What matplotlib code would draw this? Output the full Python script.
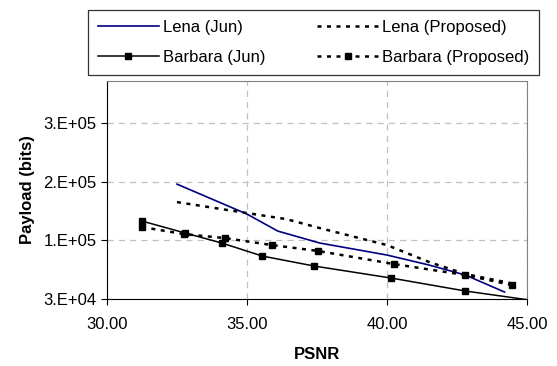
import matplotlib
matplotlib.use("Agg")
import matplotlib.pyplot as plt

plt.rcParams['font.family'] = ['Liberation Sans', 'DejaVu Sans']

# PSNR (x) and payload in bits (y)
lena_jun_x = [32.5, 35.0, 36.1, 37.6, 40.0, 41.5, 42.8, 44.2]
lena_jun_y = [186800, 145900, 122700, 106400, 90000, 76400, 62700, 39500]

lena_prop_x = [32.5, 35.0, 36.4, 37.6, 40.0, 41.5, 42.8, 44.4]
lena_prop_y = [162300, 147300, 139100, 126800, 103600, 80500, 64100, 51800]

barb_jun_x = [31.25, 32.8, 34.1, 35.55, 37.4, 40.15, 42.8, 45.2]
barb_jun_y = [136400, 120000, 106400, 88600, 75000, 58600, 40900, 28000]

barb_prop_x = [31.25, 32.75, 34.2, 35.9, 37.55, 40.25, 42.8, 44.45]
barb_prop_y = [128200, 118600, 113200, 103600, 95500, 77700, 62700, 49100]

x_ticks = [30, 35, 40, 45]
y_ticks = [30000, 110000, 190000, 270000]
y_tick_labels = ['3.E+04', '1.E+05', '2.E+05', '3.E+05']

fig = plt.figure(figsize=(5.57, 3.66), dpi=100)
ax = fig.add_axes([107/557, 1-299/366, 420/557, 218/366])

ax.plot(lena_jun_x, lena_jun_y, color='#000080', lw=1.2, label='Lena (Jun)')
ax.plot(lena_prop_x, lena_prop_y, color='black', lw=1.8, ls=(0, (1.6, 2.2)),
        label='Lena (Proposed)')
ax.plot(barb_jun_x, barb_jun_y, color='black', lw=1.1, marker='s', ms=5,
        label='Barbara (Jun)')
ax.plot(barb_prop_x, barb_prop_y, color='black', lw=1.8, ls=(0, (1.6, 2.2)),
        marker='s', ms=5, label='Barbara (Proposed)')

ax.set_xlim(30, 45)
ax.set_ylim(30000, 30000 + 3.72*80000)
ax.set_xticks(x_ticks)
ax.set_xticklabels(['%.2f' % v for v in x_ticks])
ax.set_yticks(y_ticks)
ax.set_yticklabels(y_tick_labels)
ax.tick_params(direction='out', length=4, labelsize=12, color='black')
ax.tick_params(axis='x', pad=9)

ax.grid(True, color='#c0c0c0', ls=(0, (5, 4)), lw=0.9)
ax.set_axisbelow(True)
for s in ['top', 'right']:
    ax.spines[s].set_color('#808080')
for s in ['left', 'bottom']:
    ax.spines[s].set_color('black')

ax.set_xlabel('PSNR', fontweight='bold', fontsize=12, labelpad=11)
ax.set_ylabel('Payload (bits)', fontweight='bold', fontsize=12, labelpad=6)

handles, labels = ax.get_legend_handles_labels()
order = [0, 2, 1, 3]
leg = fig.legend([handles[i] for i in order], [labels[i] for i in order],
                 ncol=2, loc='upper left', bbox_to_anchor=(88/557, 1-10/366),
                 fontsize=12, numpoints=1, handlelength=3.65, handletextpad=0.25,
                 columnspacing=3.1, borderpad=0.6, labelspacing=0.9,
                 frameon=True, fancybox=False, borderaxespad=0)
leg.get_frame().set_edgecolor('black')
leg.get_frame().set_linewidth(0.9)

fig.savefig('out.png', dpi=100)
